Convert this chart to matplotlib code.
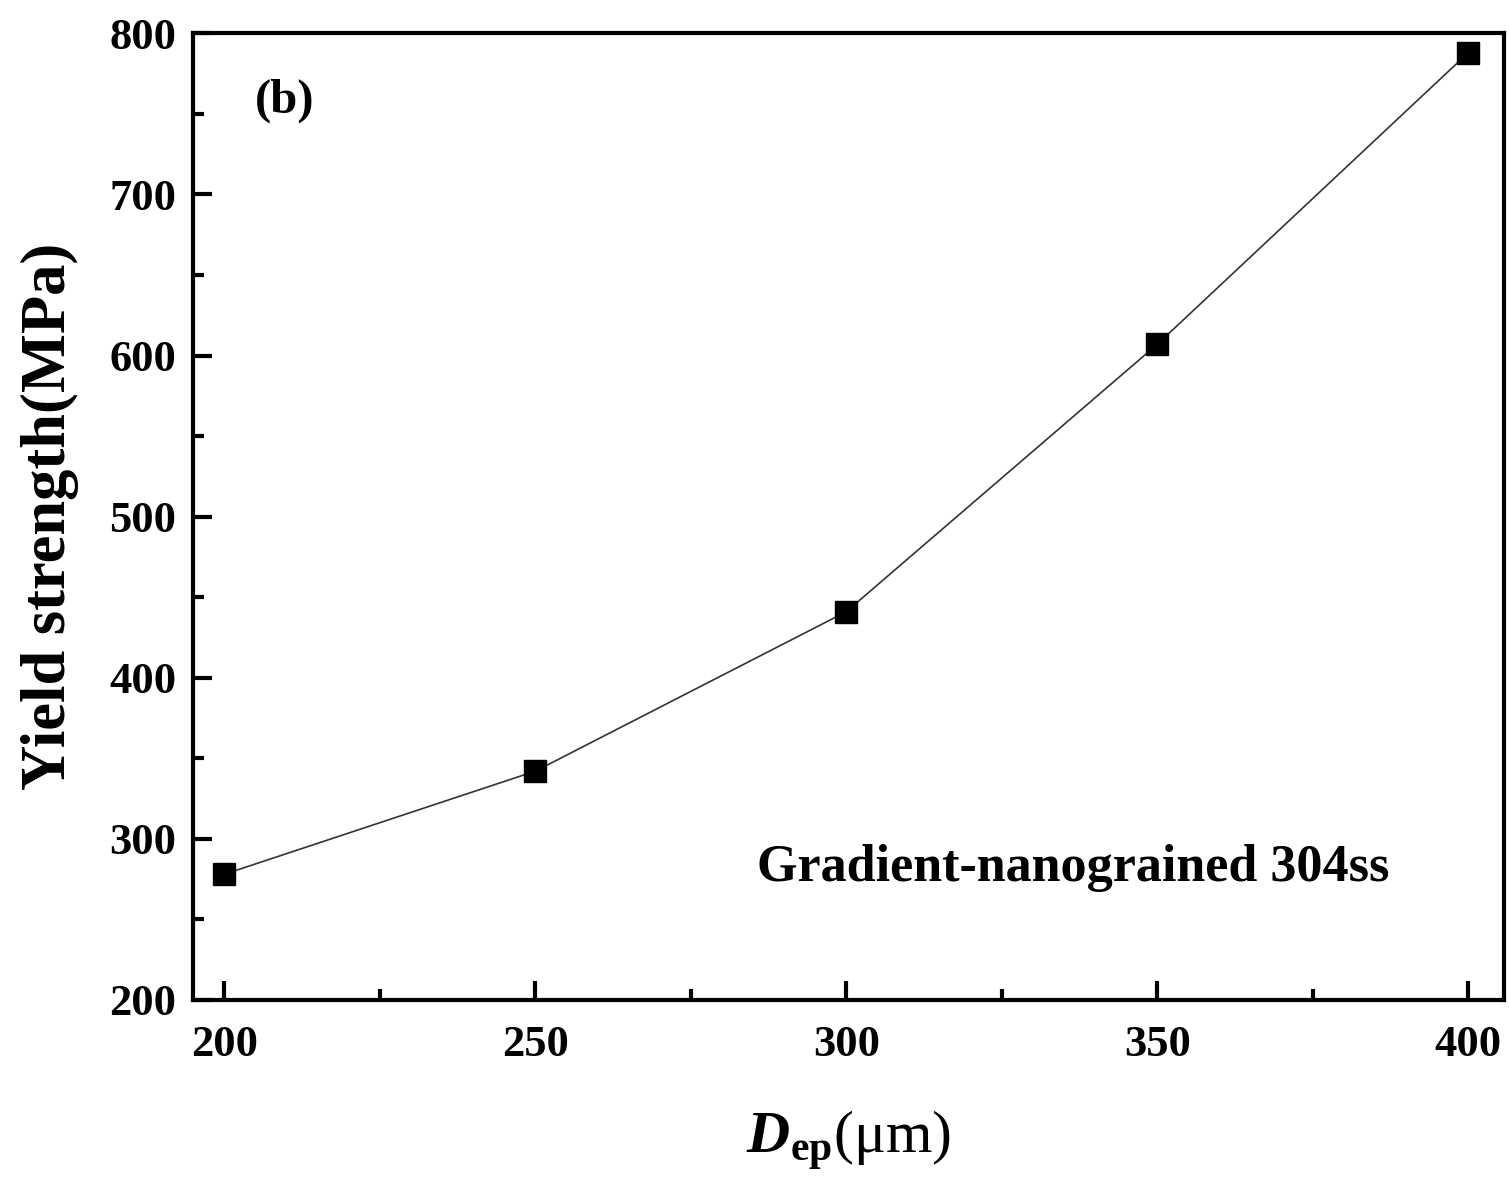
import matplotlib.pyplot as plt
from matplotlib.ticker import MultipleLocator

# Yield strength vs. D_ep
d_ep = [200, 250, 300, 350, 400]
yield_strength = [278, 342, 441, 607, 788]

plt.rcParams['font.family'] = ['Liberation Serif', 'DejaVu Serif']
plt.rcParams['mathtext.fontset'] = 'custom'
plt.rcParams['mathtext.rm'] = 'Liberation Serif'
plt.rcParams['mathtext.it'] = 'Liberation Serif:italic'
plt.rcParams['mathtext.bf'] = 'Liberation Serif:bold'
plt.rcParams['mathtext.bfit'] = 'Liberation Serif:italic:bold'

fig = plt.figure(figsize=(15.09, 11.89), dpi=100)
ax = fig.add_axes([0.128, 0.159, 0.869, 0.813])

ax.plot(d_ep, yield_strength, color='#333333', linewidth=1.2,
        marker='s', markersize=16, markerfacecolor='black', markeredgecolor='black')

ax.set_xlim(195, 405.8)
ax.set_ylim(200, 800)
ax.xaxis.set_major_locator(MultipleLocator(50))
ax.xaxis.set_minor_locator(MultipleLocator(25))
ax.yaxis.set_major_locator(MultipleLocator(100))
ax.yaxis.set_minor_locator(MultipleLocator(50))

ax.tick_params(which='both', direction='in', width=3, labelsize=32, top=False, right=False)
ax.tick_params(which='major', length=14)
ax.tick_params(which='minor', length=8)
ax.tick_params(axis='x', pad=18)
ax.tick_params(axis='y', pad=12)
for lab in ax.get_xticklabels() + ax.get_yticklabels():
    lab.set_fontweight('bold')
for sp in ax.spines.values():
    sp.set_linewidth(3)

ax.set_ylabel('Yield strength(MPa)', fontsize=45, fontweight='bold', labelpad=22)
ax.set_xlabel(r'$\mathbfit{D}_{\mathbf{ep}}$(μm)', fontsize=43, labelpad=32)

ax.text(0.047, 0.93, '(b)', transform=ax.transAxes, fontsize=35, fontweight='bold',
        ha='left', va='center')
ax.text(0.912, 0.137, 'Gradient-nanograined 304ss', transform=ax.transAxes,
        fontsize=37.5, fontweight='bold', ha='right', va='center')

fig.savefig('out.png', dpi=100)
